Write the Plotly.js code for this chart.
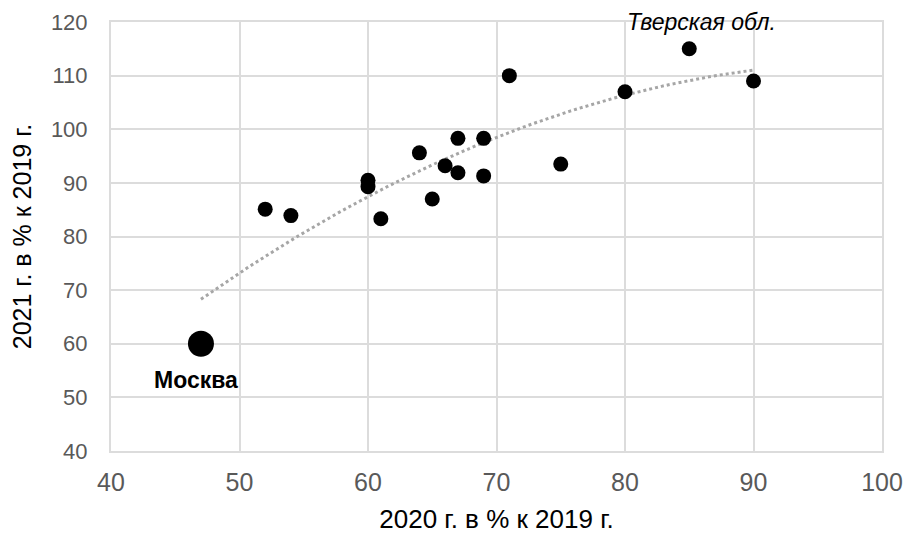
<!DOCTYPE html>
<html>
<head>
<meta charset="utf-8">
<script src="https://cdn.plot.ly/plotly-3.0.1.min.js"></script>
<style>html,body{margin:0;padding:0;background:#fff;}#chart{width:905px;height:536px;}</style>
</head>
<body>
<div id="chart"></div>
<script>
// Data (2020 and 2021, % of 2019)
const regionX = [52, 54, 60, 60, 61, 64, 65, 66, 67, 67, 69, 69, 71, 75, 80, 85, 90];
const regionY = [85.1, 83.9, 90.5, 89.3, 83.3, 95.6, 87.0, 93.2, 98.3, 91.9, 98.3, 91.3, 110, 93.5, 107, 115, 109];
const moscowX = [47];
const moscowY = [60];
const labelNames = ["Москва", "Тверская обл."];
const labelX = [47, 85];
const labelY = [60, 115];
const xTickVals = [40, 50, 60, 70, 80, 90, 100];
const yTickVals = [40, 50, 60, 70, 80, 90, 100, 110, 120];
const xTitle = "2020 г. в % к 2019 г.";
const yTitle = "2021 г. в % к 2019 г.";

// quadratic least-squares trend (like Excel polynomial trendline, order 2)
const allX = moscowX.concat(regionX);
const allY = moscowY.concat(regionY);
function quadFit(xs, ys) {
  let S = [0,0,0,0,0], T = [0,0,0];
  for (let i = 0; i < xs.length; i++) {
    let p = 1;
    for (let k = 0; k < 5; k++) { S[k] += p; if (k < 3) T[k] += p * ys[i]; p *= xs[i]; }
  }
  const A = [[S[0],S[1],S[2],T[0]],[S[1],S[2],S[3],T[1]],[S[2],S[3],S[4],T[2]]];
  for (let c = 0; c < 3; c++) {
    for (let r = c + 1; r < 3; r++) {
      const f = A[r][c] / A[c][c];
      for (let k = c; k < 4; k++) A[r][k] -= f * A[c][k];
    }
  }
  const b = [0,0,0];
  for (let r = 2; r >= 0; r--) {
    let s = A[r][3];
    for (let k = r + 1; k < 3; k++) s -= A[r][k] * b[k];
    b[r] = s / A[r][r];
  }
  return b;
}
const coef = quadFit(allX, allY);
const xmin = Math.min(...allX), xmax = Math.max(...allX);
const trendX = [], trendY = [];
for (let i = 0; i <= 60; i++) {
  const x = xmin + (xmax - xmin) * i / 60;
  trendX.push(x);
  trendY.push(coef[0] + coef[1] * x + coef[2] * x * x);
}

const FONT = "Liberation Sans, Arial, sans-serif";
const traces = [
  {x: trendX, y: trendY, mode: "lines", type: "scatter", hoverinfo: "skip",
   line: {color: "#a6a6a6", width: 3, dash: "dot"}},
  {x: regionX, y: regionY, mode: "markers", type: "scatter",
   marker: {color: "#000", size: 15}},
  {x: moscowX, y: moscowY, mode: "markers", type: "scatter",
   marker: {color: "#000", size: 26}}
];

const layout = {
  width: 905, height: 536,
  margin: {l: 111, r: 23, t: 22, b: 85},
  paper_bgcolor: "#fff", plot_bgcolor: "#fff",
  showlegend: false,
  font: {family: FONT, color: "#595959"},
  xaxis: {
    range: [40, 100], tickvals: xTickVals, ticks: "",
    showgrid: true, gridcolor: "#dcdcdc", gridwidth: 2,
    showline: true, linecolor: "#dcdcdc", linewidth: 2, mirror: true,
    zeroline: false, ticklabelstandoff: 8, automargin: false,
    tickfont: {size: 25, color: "#595959", family: FONT},
    title: {text: xTitle, font: {size: 26, color: "#000", family: FONT}, standoff: 15}
  },
  yaxis: {
    range: [40, 120], tickvals: yTickVals, ticks: "",
    showgrid: true, gridcolor: "#dcdcdc", gridwidth: 2,
    showline: true, linecolor: "#dcdcdc", linewidth: 2, mirror: true,
    zeroline: false, ticklabelstandoff: 17, automargin: false,
    tickfont: {size: 22, color: "#595959", family: FONT},
    title: {text: yTitle, font: {size: 25, color: "#000", family: FONT}, standoff: 12}
  },
  annotations: [
    {x: labelX[0], y: labelY[0], text: "<b>" + labelNames[0] + "</b>", showarrow: false,
     xanchor: "center", yanchor: "middle", xshift: -5, yshift: -36,
     font: {size: 23, color: "#000", family: FONT}},
    {x: labelX[1], y: labelY[1], text: "<i>" + labelNames[1] + "</i>", showarrow: false,
     xanchor: "center", yanchor: "middle", xshift: 12, yshift: 27,
     font: {size: 23, color: "#000", family: FONT}}
  ]
};
Plotly.newPlot("chart", traces, layout, {displayModeBar: false, staticPlot: true});
</script>
</body>
</html>
